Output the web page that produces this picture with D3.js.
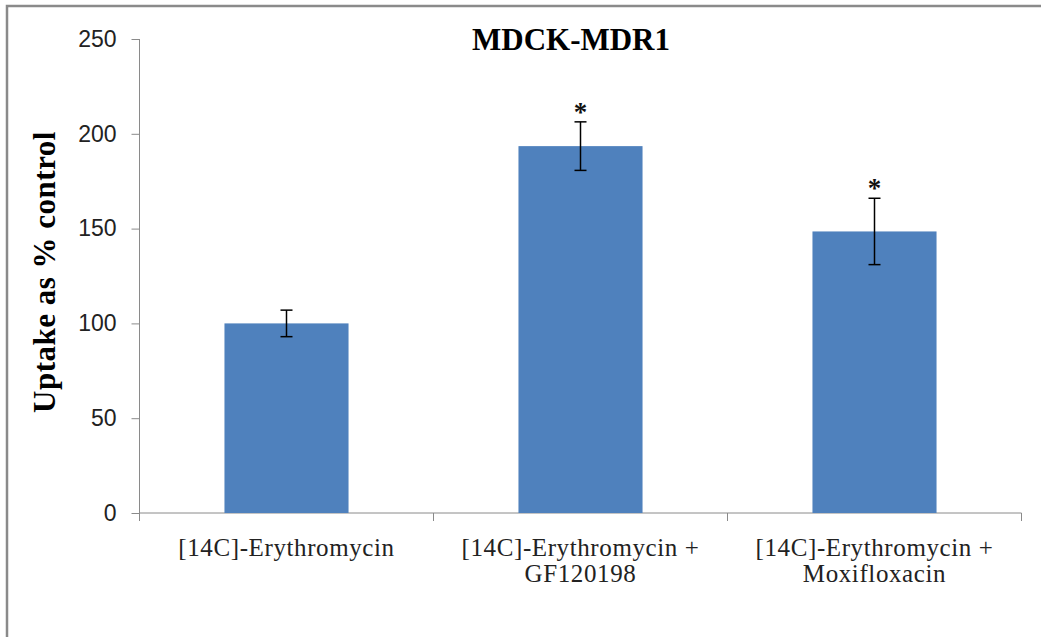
<!DOCTYPE html>
<html lang="en">
<head>
    <meta charset="utf-8">
    <title>MDCK-MDR1</title>
    <style>
        body {
            margin: 0;
            background: #fff;
        }
        svg {
            display: block;
        }
        .tick-label {
            font: 23px "Liberation Sans", Arial, sans-serif;
            fill: #222;
        }
        .cat-label {
            font: 25px "Liberation Serif", "Times New Roman", serif;
            letter-spacing: 0.6px;
            fill: #222;
        }
    </style>
</head>
<body>
<svg width="1041" height="637"></svg>

<script src="https://d3js.org/d3.v7.min.js"></script>
<script>

    // data
    const categories = [
        ["[14C]-Erythromycin"],
        ["[14C]-Erythromycin +", "GF120198"],
        ["[14C]-Erythromycin +", "Moxifloxacin"]
    ];
    const uptake = [100, 193.5, 148.5];
    const errors = [7, 12.8, 17.5];
    const significant = [false, true, true];
    const yTicks = [0, 50, 100, 150, 200, 250];

    const svg = d3.select("svg");

    // outer chart border (only top + left visible in the frame)
    svg.append("rect")
        .attr("x", 7).attr("y", 6)
        .attr("width", 1100).attr("height", 700)
        .attr("fill", "none")
        .attr("stroke", "#8a8a8a")
        .attr("stroke-width", 2.5);

    const plot = {left: 139.5, right: 1021.5, top: 39, bottom: 513};

    const x = d3.scaleBand()
        .domain(d3.range(categories.length))
        .range([plot.left, plot.right])
        .padding(0);

    const y = d3.scaleLinear()
        .domain([0, 250])
        .range([plot.bottom, plot.top]);

    // y axis
    const yAxis = d3.axisLeft(y)
        .tickValues(yTicks)
        .tickSize(8)
        .tickSizeOuter(0)
        .tickPadding(15);
    const gy = svg.append("g")
        .attr("transform", `translate(${plot.left},0)`)
        .call(yAxis);
    gy.select(".domain").remove();
    gy.selectAll(".tick line").attr("stroke", "#8a8a8a");
    gy.selectAll(".tick text").attr("class", "tick-label");
    gy.attr("font-family", null).attr("font-size", null);

    svg.append("line")
        .attr("x1", plot.left).attr("x2", plot.left)
        .attr("y1", y(250)).attr("y2", plot.bottom + 8)
        .attr("stroke", "#8a8a8a");

    // x axis line + boundary ticks
    svg.append("line")
        .attr("x1", plot.left).attr("x2", plot.right)
        .attr("y1", y(0)).attr("y2", y(0))
        .attr("stroke", "#8a8a8a");
    const bounds = d3.range(categories.length + 1).map(i =>
        i < categories.length ? x(i) : x(i - 1) + x.bandwidth());
    svg.selectAll(".xtick")
        .data(bounds)
        .enter().append("line")
        .attr("x1", d => d).attr("x2", d => d)
        .attr("y1", y(0)).attr("y2", y(0) + 8)
        .attr("stroke", "#8a8a8a");

    // bars
    const barW = x.bandwidth() * 0.422;
    const cx = i => x(i) + x.bandwidth() / 2;
    svg.selectAll(".bar")
        .data(uptake)
        .enter().append("rect")
        .attr("x", (d, i) => cx(i) - barW / 2)
        .attr("y", d => y(d))
        .attr("width", barW)
        .attr("height", d => y(0) - y(d))
        .attr("fill", "#4f81bd");

    // error bars
    const eb = svg.append("g").attr("stroke", "#000").attr("stroke-width", 1.5);
    uptake.forEach((v, i) => {
        const top = y(v + errors[i]), bot = y(v - errors[i]);
        eb.append("line").attr("x1", cx(i)).attr("x2", cx(i)).attr("y1", top).attr("y2", bot);
        eb.append("line").attr("x1", cx(i) - 6).attr("x2", cx(i) + 6).attr("y1", top).attr("y2", top);
        eb.append("line").attr("x1", cx(i) - 6).attr("x2", cx(i) + 6).attr("y1", bot).attr("y2", bot);
        if (significant[i]) {
            svg.append("text")
                .attr("x", cx(i))
                .attr("y", top - 1)
                .attr("text-anchor", "middle")
                .style("font", "bold 27px 'Liberation Serif', serif")
                .attr("fill", "#111")
                .text("*");
        }
    });

    // category labels
    categories.forEach((lines, i) => {
        const t = svg.append("text")
            .attr("class", "cat-label")
            .attr("text-anchor", "middle");
        lines.forEach((ln, j) => {
            t.append("tspan")
                .attr("x", cx(i))
                .attr("y", 556 + j * 26)
                .text(ln);
        });
    });

    // title
    svg.append("text")
        .attr("x", 571)
        .attr("y", 50)
        .attr("text-anchor", "middle")
        .style("font", "bold 31px 'Liberation Serif', serif")
        .attr("fill", "#000")
        .text("MDCK-MDR1");

    // y axis title
    svg.append("text")
        .attr("transform", "translate(55,272) rotate(-90)")
        .attr("text-anchor", "middle")
        .style("font", "bold 31px 'Liberation Serif', serif")
        .style("letter-spacing", "0.5px")
        .attr("fill", "#000")
        .text("Uptake as % control");

</script>
</body>
</html>
